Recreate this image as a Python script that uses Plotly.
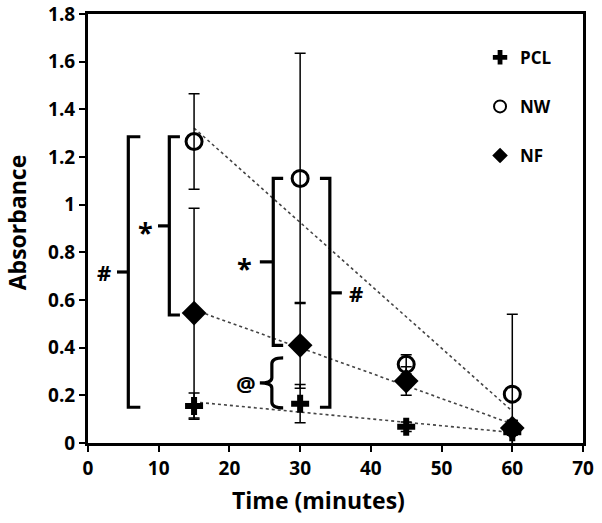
import numpy as np
import plotly.graph_objects as go

# ---- data ----
time = [15, 30, 45, 60]
pcl = [0.155, 0.165, 0.068, 0.045]
pcl_err = [0.055, 0.08, 0.02, 0.05]
nw = [1.265, 1.11, 0.33, 0.205]
nw_err = [0.2, 0.525, 0.04, 0.335]
nf = [0.545, 0.41, 0.26, 0.063]
nf_err = [0.44, 0.18, 0.06, 0.03]

series_names = ["PCL", "NW", "NF"]
x_ticks = [0, 10, 20, 30, 40, 50, 60, 70]
y_ticks = [0, 0.2, 0.4, 0.6, 0.8, 1, 1.2, 1.4, 1.6, 1.8]
y_tick_labels = ["0", "0.2", "0.4", "0.6", "0.8", "1", "1.2", "1.4", "1.6", "1.8"]

FONT = "Open Sans"
fig = go.Figure()

# linear trendlines (least-squares fit of each series)
t_arr = np.array(time, dtype=float)
trend_x = np.array([time[0], time[-1]], dtype=float)
for vals in (nw, nf, pcl):
    k, b = np.polyfit(t_arr, np.array(vals), 1)
    fig.add_trace(go.Scatter(x=trend_x, y=k * trend_x + b, mode="lines",
                             line=dict(color="#444444", width=1.6, dash="dot"),
                             showlegend=False, hoverinfo="skip"))

styles = {
    "PCL": dict(symbol="cross", size=15, color="black", line=dict(width=0)),
    "NW": dict(symbol="circle-open", size=16, color="black", line=dict(width=3)),
    "NF": dict(symbol="diamond", size=19, color="black", line=dict(width=0)),
}
data = {"PCL": (pcl, pcl_err), "NW": (nw, nw_err), "NF": (nf, nf_err)}
for i, name in enumerate(series_names):
    vals, errs = data[name]
    fig.add_trace(go.Scatter(
        x=time, y=vals, mode="markers", name=name, legendgroup=name,
        marker=styles[name],
        error_y=dict(type="data", array=errs, visible=True, color="black",
                     thickness=1.5, width=5.5),
        cliponaxis=True,
    ))

# ---- significance brackets ----
LW = 3.2
def bracket(xv, xs, y0, y1, xt, label, xl, size, yshift=0):
    ym = (y0 + y1) / 2
    path = f"M {xs},{y1} L {xv},{y1} L {xv},{y0} L {xs},{y0}"
    fig.add_shape(type="path", path=path, xref="x", yref="y",
                  line=dict(color="black", width=LW))
    fig.add_shape(type="line", x0=xv, x1=xt, y0=ym, y1=ym, xref="x", yref="y",
                  line=dict(color="black", width=LW))
    fig.add_annotation(x=xl, y=ym, text=f"<b>{label}</b>", showarrow=False,
                       xref="x", yref="y", yshift=yshift,
                       font=dict(family=FONT, size=size, color="black"))

bracket(5.7, 7.4, 0.15, 1.285, 4.1, "#", 2.3, 22)
bracket(11.5, 13.0, 0.537, 1.285, 9.9, "*", 8.2, 27, yshift=-6)
bracket(26.2, 27.6, 0.41, 1.11, 24.3, "*", 22.1, 27, yshift=-6)
bracket(34.2, 32.8, 0.15, 1.11, 35.9, "#", 37.9, 22)

# curly brace "@"
bt, bb, bx, bs, btk = 0.357, 0.147, 26.0, 27.6, 24.3
bm = (bt + bb) / 2
brace = (f"M {bs},{bt} Q {bx},{bt} {bx},{bt-0.025} L {bx},{bm+0.022} "
         f"Q {bx},{bm} {btk},{bm} Q {bx},{bm} {bx},{bm-0.022} "
         f"L {bx},{bb+0.025} Q {bx},{bb} {bs},{bb}")
fig.add_shape(type="path", path=brace, xref="x", yref="y",
              line=dict(color="black", width=LW))
fig.add_annotation(x=22.3, y=bm, text="<b>@</b>", showarrow=False, xref="x", yref="y",
                   font=dict(family=FONT, size=22, color="black"))

# axis titles
fig.add_annotation(x=0.465, y=-0.133, xref="paper", yref="paper", yanchor="middle",
                   text="<b>Time (minutes)</b>", showarrow=False,
                   font=dict(family=FONT, size=23, color="black"))
fig.add_annotation(x=-0.143, y=0.515, xref="paper", yref="paper", textangle=-90,
                   xanchor="center", yanchor="middle",
                   text="<b>Absorbance</b>", showarrow=False,
                   font=dict(family=FONT, size=23, color="black"))

axis_common = dict(showline=True, linecolor="black", linewidth=3, mirror=True,
                   ticks="outside", ticklen=6, tickwidth=2, tickcolor="black",
                   showgrid=False, zeroline=False, automargin=False,
                   tickfont=dict(family=FONT, size=19, color="black", weight="bold"))
fig.update_xaxes(range=[0, 70], tickvals=x_ticks, **axis_common)
fig.update_yaxes(range=[0, 1.8], tickvals=y_ticks, ticktext=y_tick_labels, **axis_common)

fig.update_layout(
    width=602, height=523,
    margin=dict(l=88, r=19, t=14, b=80),
    paper_bgcolor="white", plot_bgcolor="white",
    showlegend=True,
    legend=dict(x=0.792, y=0.94, xanchor="left", yanchor="top",
                bgcolor="rgba(0,0,0,0)", tracegroupgap=24,
                font=dict(family=FONT, size=17, color="black", weight="bold"),
                itemsizing="constant"),
)

fig.write_html("out.html", config={"displayModeBar": False},
               post_script="document.body.style.margin='0';")
